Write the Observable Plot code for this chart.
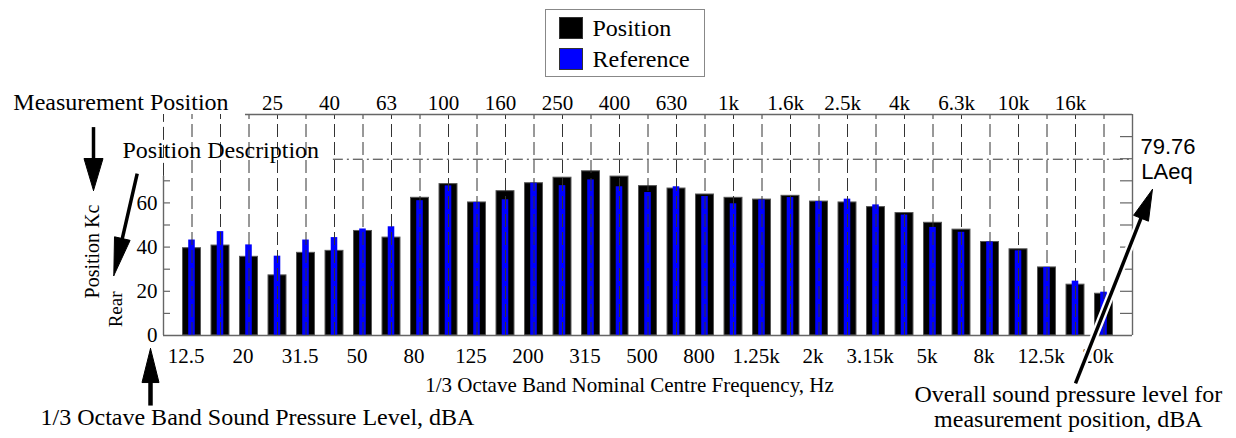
<!DOCTYPE html>
<html>
<head>
<meta charset="utf-8">
<script src="https://cdn.jsdelivr.net/npm/d3@7"></script>
<script src="https://cdn.jsdelivr.net/npm/@observablehq/plot@0.6"></script>
<style>
  body { margin: 0; background: #fff; }
  #legend { position: relative; width: 1236px; height: 84px; font-family: "Liberation Serif", "Times New Roman", serif; }
  #legend .box { position: absolute; left: 545px; top: 9px; width: 160px; height: 68px; border: 1.5px solid #888; box-sizing: border-box; }
  #legend .row { position: absolute; left: 12.5px; display: flex; align-items: center; font-size: 24px; line-height: 22px; height: 22px; }
  #legend .sw { width: 24px; height: 22px; margin-right: 10px; box-sizing: border-box; border: 1px solid #333; }
</style>
</head>
<body>
<div id="legend"></div>
<div id="chart"></div>
<script>
// ---- data ----
const bands = ["12.5","16","20","25","31.5","40","50","63","80","100","125","160","200","250","315","400","500","630","800","1k","1.25k","1.6k","2k","2.5k","3.15k","4k","5k","6.3k","8k","10k","12.5k","16k","20k"];
const position = [39.5,40.7,35.6,27.2,37.4,38.3,47.3,44.3,62.3,68.5,60.2,65.3,68.9,71.4,74.3,71.9,67.6,66.5,63.8,62.3,61.5,63.2,60.6,60.2,58.1,55.4,51.0,47.9,42.3,39.0,30.8,23.0,18.9];
const reference = [43.2,47.0,41.0,35.9,43.2,44.3,48.2,49.2,61.0,67.7,60.2,61.4,68.9,67.8,70.4,67.3,64.7,67.3,62.9,59.6,61.3,62.4,60.6,61.7,59.1,54.5,48.9,46.7,42.3,38.3,30.8,24.6,19.6];
const bottomTicks = ["12.5","20","31.5","50","80","125","200","315","500","800","1.25k","2k","3.15k","5k","8k","12.5k","20k"];
const topTicks = ["25","40","63","100","160","250","400","630","1k","1.6k","2.5k","4k","6.3k","10k","16k"];
const yTickLabels = [0, 20, 40, 60];
const laeq = 79.76;
const seriesNames = ["Position", "Reference"];
const seriesColors = ["#000000", "#0000ff"];

// ---- legend ----
const legend = document.getElementById("legend");
const box = document.createElement("div");
box.className = "box";
seriesNames.forEach((name, k) => {
  const row = document.createElement("div");
  row.className = "row";
  row.style.top = (k === 0 ? 6.5 : 37.5) + "px";
  const sw = document.createElement("div");
  sw.className = "sw";
  sw.style.background = seriesColors[k];
  const t = document.createElement("span");
  t.textContent = name;
  row.appendChild(sw); row.appendChild(t);
  box.appendChild(row);
});
legend.appendChild(box);

// ---- layout ----
const W = 1236, H = 354, ML = 163, MR = 104, MT = 30, MB = 103;
const XD = [-1, 33], YD = [0, 100];
const kx = (W - ML - MR) / (XD[1] - XD[0]);
const ky = (H - MT - MB) / (YD[1] - YD[0]);

const rows = bands.map((b, i) => ({i, band: b, position: position[i], reference: reference[i]}));
const bottomIdx = bottomTicks.map((t, k) => bands.indexOf(t, k === 0 ? 0 : 2));
const topIdx = topTicks.map(t => bands.indexOf(t, 2));

// annotations (data units)
const serifLeft = [
  {x: -6.27, y: 105.7, text: "Measurement Position", size: 24},
  {x: -2.44, y: 83.6, text: "Position Description", size: 24},
  {x: -5.316, y: -37.2, text: "1/3 Octave Band Sound Pressure Level, dBA", size: 24}
];
const serifMiddle = [
  {x: 15.35, y: -22.6, text: "1/3 Octave Band Nominal Centre Frequency, Hz", size: 21},
  {x: 30.75, y: -26.8, text: "Overall sound pressure level for", size: 24},
  {x: 30.75, y: -38.1, text: "measurement position, dBA", size: 24}
];
const rotated = [
  {x: -3.505, y: 38.0, text: "Position Kc", size: 20},
  {x: -2.653, y: 11.8, text: "Rear", size: 19}
];
const sansNotes = [
  {x: 33.28, y: 85.5, text: String(laeq)},
  {x: 33.31, y: 74.2, text: "LAeq"}
];
const arrows = [
  {id: "a", x1: -3.456, y1: 94.3, x2: -3.456, y2: 65.6, head: 32, r: 9.5, w: 3.5},
  {id: "b", x1: -1.923, y1: 73.2, x2: -2.744, y2: 27.1, head: 38, r: 8, w: 3.5},
  {id: "c", x1: -1.456, y1: -31.7, x2: -1.456, y2: -5.9, head: 34, r: 8.5, w: 4.5},
  {id: "d", x1: 31.0, y1: -21.7, x2: 33.7, y2: 66.1, head: 31, r: 8, w: 3.5, halo: true}
].map(a => {
  const dxp = (a.x2 - a.x1) * kx, dyp = -(a.y2 - a.y1) * ky; // pixel direction (y down)
  const len = Math.hypot(dxp, dyp);
  const ux = dxp / len, uy = dyp / len;
  const back = a.head * 0.6;
  // head triangle in data units
  const bx = a.x2 - ux * a.head / kx, by = a.y2 + uy * a.head / ky;
  const px = -uy, py = ux; // perpendicular (pixel)
  const tri = [
    {id: a.id, x: a.x2, y: a.y2},
    {id: a.id, x: bx + px * a.r / kx, y: by - py * a.r / ky},
    {id: a.id, x: bx - px * a.r / kx, y: by + py * a.r / ky},
    {id: a.id, x: a.x2, y: a.y2}
  ];
  return {...a, tri, sx2: a.x2 - ux * back / kx, sy2: a.y2 + uy * back / ky};
});
const heads = arrows.flatMap(a => a.tri);

const frameColor = "#666";

const chart = Plot.plot({
  width: W, height: H,
  marginLeft: ML, marginRight: MR, marginTop: MT, marginBottom: MB,
  x: {domain: XD},
  y: {domain: YD},
  style: {fontFamily: "Liberation Serif, Times New Roman, serif", fontSize: "21px", color: "black", background: "white", overflow: "visible"},
  marks: [
    // bars
    Plot.rect(rows, {x1: d => d.i - 0.315, x2: d => d.i + 0.315, y1: 0, y2: "position", fill: seriesColors[0], stroke: "#555", strokeWidth: 1}),
    Plot.rect(rows, {x1: d => d.i - 0.115, x2: d => d.i + 0.115, y1: 0, y2: "reference", fill: seriesColors[1]}),
    // dashed verticals
    Plot.ruleX(d3.range(0, bands.length), {y1: 0, y2: 100, stroke: "#333", strokeWidth: 1, strokeDasharray: "13,5"}),
    Plot.ruleX([-1], {y1: 72, y2: 100, stroke: "#333", strokeWidth: 1, strokeDasharray: "13,5"}),
    // overall level line
    Plot.ruleY([laeq], {x1: 4.96, x2: 33, stroke: "#333", strokeWidth: 1, strokeDasharray: "10,4,2,4"}),
    // frame
    Plot.ruleY([0], {x1: -1, x2: 33, stroke: frameColor, strokeWidth: 1.4}),
    Plot.ruleX([33], {y1: 0, y2: 100, stroke: frameColor, strokeWidth: 1.4}),
    Plot.ruleY([100], {x1: 1.877, x2: 33, stroke: frameColor, strokeWidth: 1.4}),
    Plot.ruleX([-1], {y1: 0, y2: 72, stroke: frameColor, strokeWidth: 1.4}),
    // inner ticks
    Plot.ruleY(d3.range(10, 80, 10), {x1: -1, x2: -1 + 7 / kx, stroke: frameColor, strokeWidth: 1.2}),
    Plot.ruleY(d3.range(10, 100, 10), {x1: 33 - 12 / kx, x2: 33, stroke: frameColor, strokeWidth: 1.2}),
    // axes
    Plot.axisX(bottomIdx, {anchor: "bottom", tickSize: 0, tickPadding: 13, tickFormat: i => bands[i], dx: -6, fontSize: 21, label: null}),
    Plot.axisX(topIdx, {anchor: "top", tickSize: 0, tickPadding: 5, tickFormat: i => bands[i], dx: -5, fontSize: 21, label: null}),
    Plot.axisY(yTickLabels, {anchor: "left", tickSize: 0, tickPadding: 6, fontSize: 21, label: null}),
    // annotations
    Plot.text(serifLeft, {x: "x", y: "y", text: "text", fontSize: "size", textAnchor: "start", lineAnchor: "middle", fill: "black"}),
    Plot.text(serifMiddle, {x: "x", y: "y", text: "text", fontSize: "size", textAnchor: "middle", lineAnchor: "middle", fill: "black"}),
    Plot.text(rotated, {x: "x", y: "y", text: "text", fontSize: "size", rotate: -90, textAnchor: "middle", lineAnchor: "middle", fill: "black"}),
    Plot.text(sansNotes, {x: "x", y: "y", text: "text", fontSize: 22, fontFamily: "Liberation Sans, Arial, sans-serif", textAnchor: "start", lineAnchor: "middle", fill: "black"}),
    // arrows
    Plot.link(arrows.filter(a => a.halo), {x1: "x1", y1: "y1", x2: "sx2", y2: "sy2", stroke: "white", strokeWidth: 8}),
    Plot.link(arrows, {x1: "x1", y1: "y1", x2: "sx2", y2: "sy2", stroke: "black", strokeWidth: d => d.w}),
    Plot.line(heads, {x: "x", y: "y", z: "id", fill: "black", stroke: "black", strokeWidth: 1, curve: "linear"})
  ]
});
document.getElementById("chart").appendChild(chart);
</script>
</body>
</html>
